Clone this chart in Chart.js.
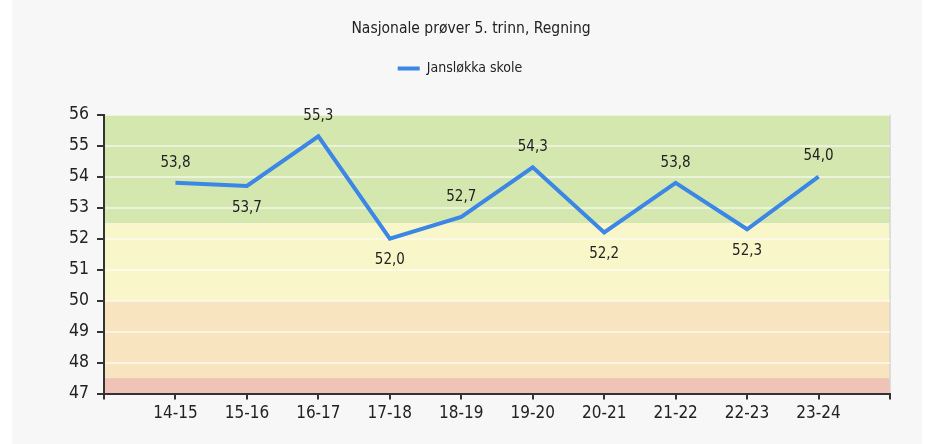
<!DOCTYPE html>
<html>
<head>
<meta charset="utf-8">
<script src="https://cdn.jsdelivr.net/npm/chart.js@4"></script>
<style>
  html, body { margin: 0; padding: 0; background: #fff; }
  #wrap { position: absolute; left: 12px; top: 0; width: 910px; height: 444px; background: #f7f7f7; }
</style>
</head>
<body>
<div id="wrap"><canvas id="chart"></canvas></div>
<script>
// school years (first and last slot are empty padding)
const years = ['', '14-15', '15-16', '16-17', '17-18', '18-19', '19-20', '20-21', '21-22', '22-23', '23-24', ''];
const scores = [null, 53.8, 53.7, 55.3, 52.0, 52.7, 54.3, 52.2, 53.8, 52.3, 54.0, null];
const labelSide = [null, 'up', 'down', 'up', 'down', 'up', 'up', 'down', 'up', 'down', 'up', null];

// coloured score bands [from, to, colour]
const bands = [
  [52.5, 56, '#d3e7af'],
  [50, 52.5, '#f9f6c9'],
  [47.5, 50, '#f8e5c0'],
  [47, 47.5, '#f0c3b7'],
];

const FONT = '"DejaVu Sans Condensed", Arial, sans-serif';

const bandPlugin = {
  id: 'bands',
  beforeDraw(chart) {
    const { ctx, chartArea: a, scales: { y } } = chart;
    ctx.save();
    for (const [lo, hi, col] of bands) {
      const top = y.getPixelForValue(hi), bot = y.getPixelForValue(lo);
      ctx.fillStyle = col;
      ctx.fillRect(a.left, top, a.right - a.left, bot - top);
    }
    ctx.strokeStyle = '#d4d4d4';
    ctx.lineWidth = 1.5;
    ctx.beginPath();
    ctx.moveTo(a.right, a.top);
    ctx.lineTo(a.right, a.bottom);
    ctx.stroke();
    ctx.restore();
  }
};

// extra room under the legend, and nudge it a bit left of the title
const legendGap = {
  id: 'legendGap',
  beforeInit(chart) {
    const fit = chart.legend.fit;
    chart.legend.fit = function () {
      fit.bind(chart.legend)();
      this.height += 29;
    };
  },
  afterLayout(chart) {
    chart.legend.left -= 22;
  }
};

const valueLabels = {
  id: 'valueLabels',
  afterDatasetsDraw(chart) {
    const { ctx } = chart;
    const meta = chart.getDatasetMeta(0);
    ctx.save();
    ctx.font = '15px ' + FONT;
    ctx.fillStyle = '#222';
    ctx.textAlign = 'center';
    ctx.textBaseline = 'middle';
    meta.data.forEach((pt, i) => {
      const v = scores[i];
      if (v == null) return;
      const dy = labelSide[i] === 'up' ? -20 : 22;
      ctx.fillText(v.toFixed(1).replace('.', ','), pt.x, pt.y + dy);
    });
    ctx.restore();
  }
};

new Chart(document.getElementById('chart'), {
  type: 'line',
  data: {
    labels: years,
    datasets: [{
      label: 'Jansløkka skole',
      data: scores,
      borderColor: '#3c86e6',
      backgroundColor: '#3c86e6',
      borderWidth: 4,
      pointRadius: 0,
      tension: 0,
    }]
  },
  options: {
    responsive: true,
    maintainAspectRatio: false,
    animation: false,
    layout: { padding: { top: 16, right: 32, left: 40, bottom: 16 } },
    plugins: {
      title: {
        display: true,
        text: 'Nasjonale prøver 5. trinn, Regning',
        color: '#222',
        font: { family: FONT, size: 15.5, weight: 'normal' },
        padding: { top: 4, bottom: 13 },
      },
      legend: {
        display: true,
        labels: {
          color: '#222',
          font: { family: FONT, size: 14 },
          boxWidth: 22,
          boxHeight: 0,
          padding: 10,
        }
      },
      tooltip: { enabled: false },
    },
    scales: {
      x: {
        offset: false,
        grid: { display: true, drawOnChartArea: false, tickColor: '#333', tickLength: 6, lineWidth: 2 },
        border: { display: true, color: '#333', width: 2 },
        ticks: { color: '#222', font: { family: FONT, size: 17 }, maxRotation: 0, autoSkip: false, padding: 4 },
      },
      y: {
        min: 47,
        max: 56,
        afterFit(s) { s.width = 52; },
        grid: { color: 'rgba(255,255,255,0.55)', lineWidth: 2, tickColor: '#333', tickLength: 7 },
        border: { display: true, color: '#333', width: 2 },
        ticks: { stepSize: 1, color: '#222', font: { family: FONT, size: 17.5 }, padding: 8 },
      }
    }
  },
  plugins: [bandPlugin, legendGap, valueLabels]
});
</script>
</body>
</html>
